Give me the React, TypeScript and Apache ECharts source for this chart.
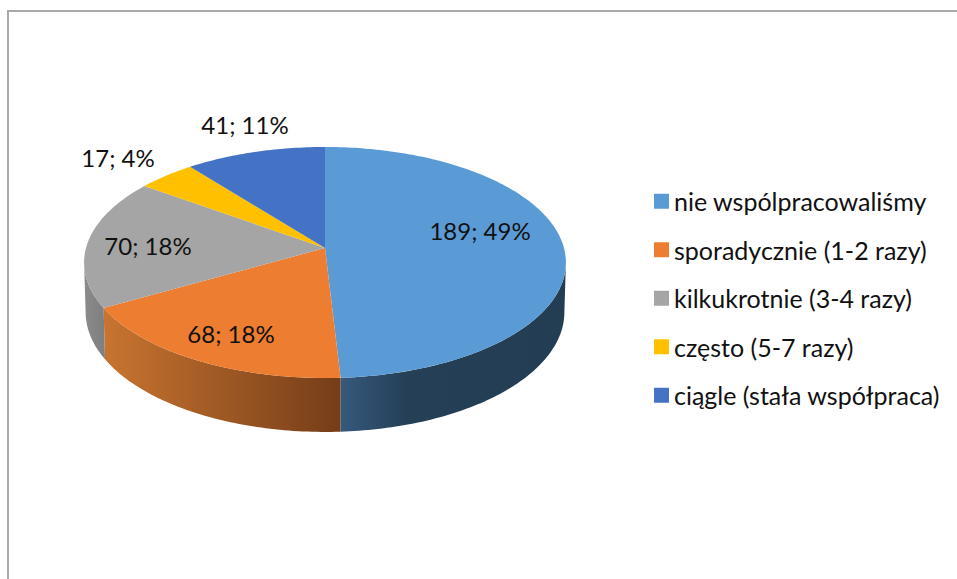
import React, { useEffect, useRef } from "react";
import * as echarts from "echarts";

const categories = [
  "nie wspólpracowaliśmy",
  "sporadycznie (1-2 razy)",
  "kilkukrotnie (3-4 razy)",
  "często (5-7 razy)",
  "ciągle (stała współpraca)",
];
const values = [189, 68, 70, 17, 41];
const colors = ["#5B9BD5", "#ED7D31", "#A5A5A5", "#FFC000", "#4472C4"];

// Side-wall shading of each slice: [stop, colour] pairs over the x range of the pie
const sideShades: [number, string][][] = [
  [[0, "#36597D"], [0.3, "#253F56"], [1, "#233D53"]],
  [[0, "#C87430"], [1, "#753D18"]],
  [[0, "#8C8C8C"], [1, "#7E7E7E"]],
  [[0, "#997300"], [1, "#997300"]],
  [[0, "#294576"], [1, "#294576"]],
];
const sideRanges = [[340, 566], [105, 340], [83, 105], [144, 190], [190, 325]];

const labelCentres = [[480, 230], [231, 333], [148, 245], [118, 157], [245, 124]];

// Perspective model of the pie's top and bottom planes
const FONT = "Lato, Carlito, Calibri, sans-serif";
const LABEL_SIZE = 24;
const LEGEND_SIZE = 25;
const CX = 325;
const K = 0.1255;
const topPlane = { y0: 248, a: 113.7, b: 239 };
const botPlane = { y0: 297, a: 118, b: 237.5 };
// Turn at which the rim reaches its rightmost point; the wall is visible from there to its mirror
const RIM_TURN = Math.acos(-K) / (2 * Math.PI);

const total = values.reduce((s, v) => s + v, 0);

function project(p: { y0: number; a: number; b: number }, turn: number) {
  const t = turn * Math.PI * 2;
  const X = Math.sin(t);
  const Y = -Math.cos(t);
  const s = 1 / (1 - K * Y);
  return [CX + p.b * X * s, p.y0 + p.a * Y * s];
}

function arc(p: { y0: number; a: number; b: number }, from: number, to: number) {
  const n = Math.max(4, Math.ceil((to - from) * 360));
  const pts: number[][] = [];
  for (let i = 0; i <= n; i++) pts.push(project(p, from + ((to - from) * i) / n));
  return pts;
}

function makeSeries(index: number) {
  const before = values.slice(0, index).reduce((s, v) => s + v, 0);
  return {
    type: "custom",
    name: categories[index],
    coordinateSystem: "none",
    silent: true,
    itemStyle: { color: colors[index] },
    data: [[values[index]]],
    renderItem: (_p: any, api: any) => {
      const v = api.value(0) as number;
      const from = before / total;
      const to = (before + v) / total;
      const topArc = arc(topPlane, from, to);
      const wallFrom = Math.max(from, RIM_TURN);
      const wallTo = Math.min(to, 1 - RIM_TURN);
      const [x0, x1] = sideRanges[index];
      const stops = sideShades[index].map(([offset, color]) => ({ offset, color }));
      const [lx, ly] = labelCentres[index];
      const children: any[] = [
        {
          type: "polygon",
          z2: 10,
          shape: { points: [[CX, topPlane.y0], ...topArc] },
          style: { fill: colors[index] },
        },
        {
          type: "text",
          z2: 20,
          x: lx,
          y: ly,
          style: {
            text: `${v}; ${Math.round((v / total) * 100)}%`,
            fill: "#111",
            font: `${LABEL_SIZE}px ${FONT}`,
            align: "center",
            verticalAlign: "middle",
          },
        },
      ];
      if (wallTo > wallFrom) {
        children.unshift({
          type: "polygon",
          z2: 1,
          shape: {
            points: [...arc(topPlane, wallFrom, wallTo), ...arc(botPlane, wallFrom, wallTo).reverse()],
          },
          style: { fill: new echarts.graphic.LinearGradient(x0, 0, x1, 0, stops, true) },
        });
      }
      return { type: "group", children };
    },
  };
}

export default function App() {
  const ref = useRef<HTMLDivElement>(null);
  useEffect(() => {
    document.body.style.margin = "0";
    const chart = echarts.init(ref.current!, undefined, { renderer: "svg" });
    chart.setOption({
      animation: false,
      backgroundColor: "#fff",
      legend: {
        orient: "vertical",
        left: 654,
        top: 188,
        itemWidth: 15,
        itemHeight: 15,
        itemGap: 22,
        icon: "rect",
        padding: 0,
        selectedMode: false,
        data: categories,
        textStyle: { fontFamily: FONT, fontSize: LEGEND_SIZE, color: "#111", lineHeight: 26.5 },
      },
      graphic: [
        { type: "line", shape: { x1: 7, y1: 11, x2: 957, y2: 11 }, style: { stroke: "#A9A9A9", lineWidth: 2 } },
        { type: "line", shape: { x1: 8, y1: 10, x2: 8, y2: 579 }, style: { stroke: "#A9A9A9", lineWidth: 2 } },
      ],
      series: values.map((_, i) => makeSeries(i)),
    });
    return () => chart.dispose();
  }, []);
  return <div ref={ref} style={{ width: 957, height: 579 }} />;
}
